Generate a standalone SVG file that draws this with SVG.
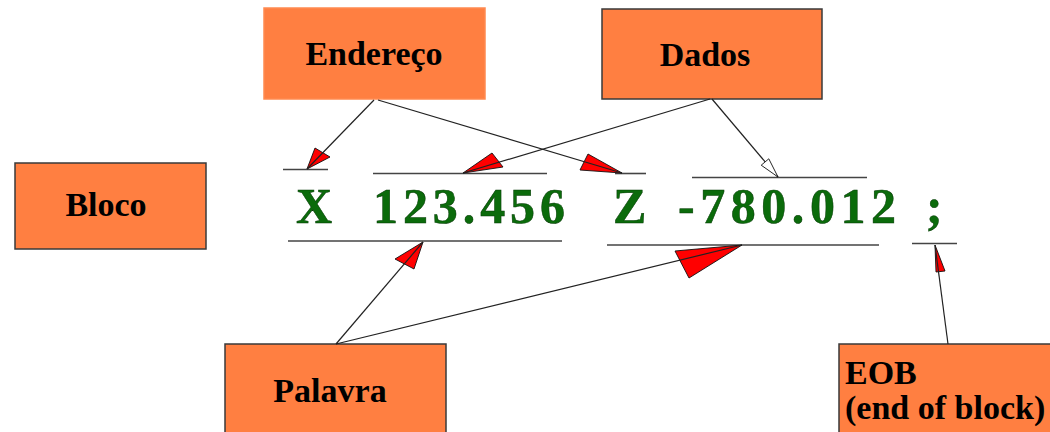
<svg xmlns="http://www.w3.org/2000/svg" width="1050" height="432" viewBox="0 0 1050 432">
  <style>
    .box { fill: #ff7f41; stroke: #3a3a3a; stroke-width: 1.5; }
    .box.plain { stroke: #ff8a50; }
    .lbl { font-family: "Liberation Serif", "Times New Roman", serif; font-weight: bold; font-size: 34px; fill: #000; }
    .code { font-family: "Liberation Serif", "Times New Roman", serif; font-weight: bold; font-size: 50px; fill: #0b6b0b; stroke: #053805; stroke-width: 0.5; }
    .rule { stroke: #444; stroke-width: 1.6; fill: none; }
    .wire { stroke: #222; stroke-width: 1.2; fill: none; }
    .head { fill: #ff0000; stroke: #111; stroke-width: 0.9; stroke-linejoin: round; }
    .head.open { fill: #fff; }
  </style>

  <rect width="1050" height="432" fill="#fff"/>

  <!-- labelled boxes -->
  <g id="endereco">
    <rect class="box plain" x="264" y="8" width="221" height="91"/>
    <text class="lbl" x="374" y="65" text-anchor="middle">Endereço</text>
  </g>
  <g id="dados">
    <rect class="box" x="602" y="9" width="220" height="90"/>
    <text class="lbl" x="705" y="66" text-anchor="middle">Dados</text>
  </g>
  <g id="bloco">
    <rect class="box" x="15" y="163" width="191" height="86"/>
    <text class="lbl" x="106" y="216" text-anchor="middle">Bloco</text>
  </g>
  <g id="palavra">
    <rect class="box" x="225" y="344" width="221" height="100"/>
    <text class="lbl" x="330" y="402" text-anchor="middle">Palavra</text>
  </g>
  <g id="eob">
    <rect class="box" x="839" y="344" width="220" height="100"/>
    <text class="lbl" x="845" y="384">EOB</text>
    <text class="lbl" x="845" y="419">(end of block)</text>
  </g>

  <!-- the program block line -->
  <g id="block-line">
    <text class="code" x="296" y="223">X</text>
    <text class="code" x="373" y="223" textLength="192" lengthAdjust="spacing">123.456</text>
    <text class="code" x="613" y="223">Z</text>
    <text class="code" x="678" y="223" textLength="218" lengthAdjust="spacing">-780.012</text>
    <text class="code" x="926" y="223">;</text>

    <line class="rule" x1="283" y1="169.5" x2="328" y2="169.5"/>
    <line class="rule" x1="373" y1="173.5" x2="547" y2="173.5"/>
    <line class="rule" x1="615" y1="173.5" x2="646" y2="173.5"/>
    <line class="rule" x1="692" y1="177.5" x2="867" y2="177.5"/>
    <line class="rule" x1="288" y1="241" x2="562" y2="241"/>
    <line class="rule" x1="607" y1="245" x2="879" y2="245"/>
    <line class="rule" x1="912" y1="243.5" x2="957" y2="243.5"/>
  </g>

  <!-- connectors -->
  <g id="connectors">
    <polygon class="head" points="307,169 315,148 330,157"/>
    <line class="wire" x1="374" y1="100" x2="307" y2="169"/>

    <polygon class="head" points="622,173 588,154 580,170"/>
    <line class="wire" x1="378" y1="100" x2="622" y2="173"/>

    <polygon class="head" points="463,173 492,153 503,167"/>
    <line class="wire" x1="710" y1="99" x2="463" y2="173"/>

    <line class="wire" x1="712" y1="99" x2="778" y2="177"/>
    <polygon class="head open" points="778,177 768.8,158.8 761.2,165.2"/>

    <polygon class="head" points="423,242 395,259 414,269"/>
    <line class="wire" x1="336" y1="344" x2="423" y2="242"/>

    <polygon class="head" points="742,245 675,251 689,278"/>
    <line class="wire" x1="336" y1="344" x2="742" y2="245"/>

    <polygon class="head" points="935,245 936,272 945,271"/>
    <line class="wire" x1="948" y1="344" x2="935" y2="245"/>
  </g>
</svg>
